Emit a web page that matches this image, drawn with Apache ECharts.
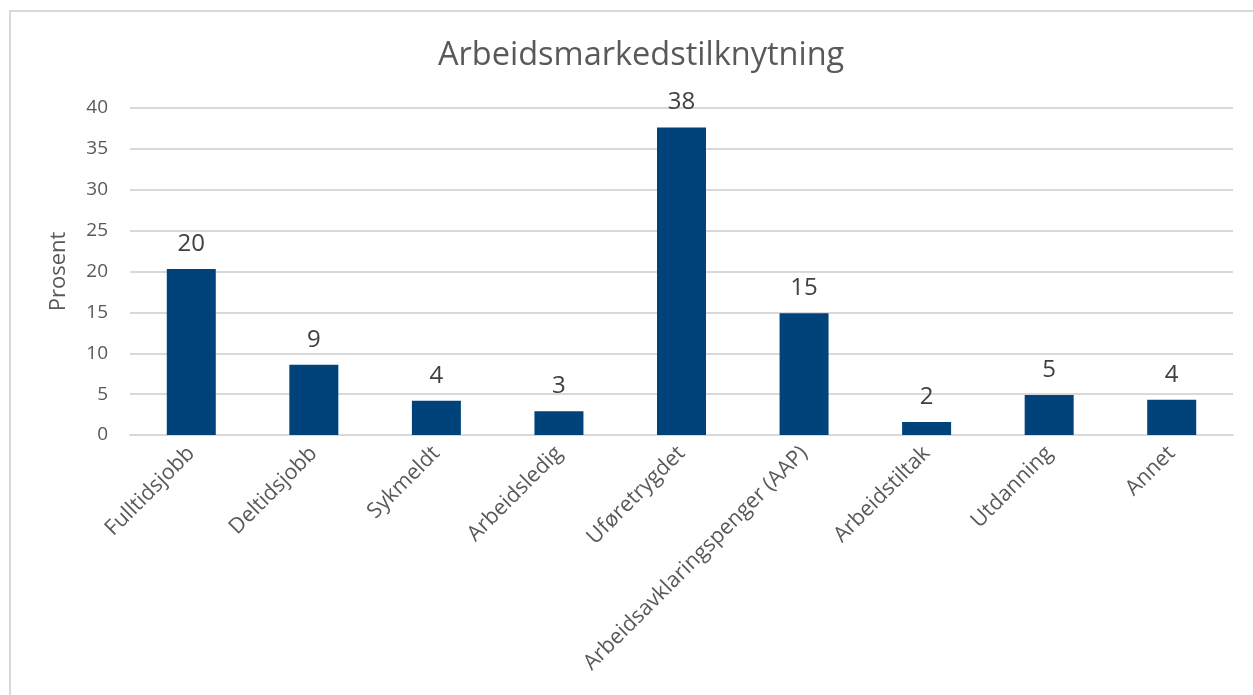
<!DOCTYPE html>
<html>
<head>
<meta charset="utf-8">
<script src="https://cdn.jsdelivr.net/npm/echarts@6/dist/echarts.min.js"></script>
<style>
  html, body { margin: 0; padding: 0; background: #fff; }
  #frame {
    position: absolute; left: 9px; top: 10px; width: 1260px; height: 700px;
    border: 2px solid #d9d9d9; box-sizing: border-box;
  }
  #chart { position: absolute; left: 0; top: 0; width: 1253px; height: 695px; }
</style>
</head>
<body>
<div id="frame"></div>
<div id="chart"></div>
<script>
// data
const categories = ['Fulltidsjobb', 'Deltidsjobb', 'Sykmeldt', 'Arbeidsledig', 'Uføretrygdet',
    'Arbeidsavklaringspenger (AAP)', 'Arbeidstiltak', 'Utdanning', 'Annet'];
const values = [20.3, 8.6, 4.2, 2.9, 37.6, 14.9, 1.6, 4.9, 4.3];
const yTicks = [0, 5, 10, 15, 20, 25, 30, 35, 40];

const textColor = '#595959';
const font = '"Open Sans", "Noto Sans", sans-serif';

const chart = echarts.init(document.getElementById('chart'));

const option = {
    animation: false,
    title: {
        text: 'Arbeidsmarkedstilknytning',
        left: 433,
        top: 34,
        textStyle: { color: textColor, fontSize: 32.5, fontWeight: 'normal', fontFamily: font }
    },
    grid: {
        left: 130, right: 20, top: 108, bottom: 260,
        outerBoundsMode: 'none'
    },
    xAxis: {
        type: 'category',
        data: categories,
        axisLine: { lineStyle: { color: '#d9d9d9', width: 2 } },
        axisTick: { show: false },
        axisLabel: {
            rotate: 45, interval: 0, margin: 15,
            color: textColor, fontSize: 21.5, fontFamily: font
        }
    },
    yAxis: {
        type: 'value',
        min: yTicks[0],
        max: yTicks[yTicks.length - 1],
        interval: 5,
        name: 'Prosent',
        nameLocation: 'middle',
        nameGap: 60,
        nameTextStyle: { color: textColor, fontSize: 22, fontFamily: font },
        axisLine: { show: false },
        axisTick: { show: false },
        axisLabel: { color: textColor, fontSize: 19, fontFamily: font, margin: 22 },
        splitLine: { lineStyle: { color: '#d9d9d9', width: 2 } }
    },
    series: [{
        type: 'bar',
        data: values,
        barWidth: 49,
        itemStyle: { color: '#00437a' },
        label: {
            show: true,
            position: 'top',
            distance: 13,
            color: '#404040',
            fontSize: 24,
            fontFamily: font,
            formatter: p => Math.round(p.value)
        }
    }]
};

chart.setOption(option);
</script>
</body>
</html>
